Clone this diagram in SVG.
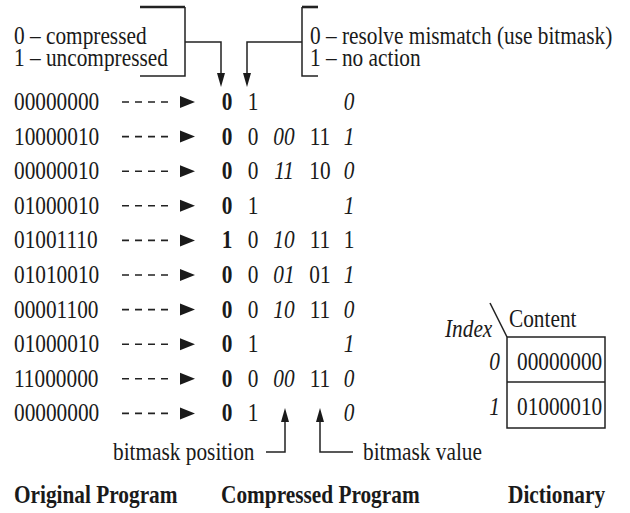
<svg xmlns="http://www.w3.org/2000/svg" xmlns:xlink="http://www.w3.org/1999/xlink" width="630" height="513" viewBox="0 0 630 513">
<style>
text{font-family:"Liberation Serif","Times New Roman",serif;font-size:24.5px;fill:#1a1a1a}
.b{font-weight:bold}
.i{font-style:italic}
.m{text-anchor:middle}
.e{text-anchor:end}
.ln{stroke:#222;stroke-width:1.5;fill:none}
.thk{stroke:#222;stroke-width:2.6;fill:none}
.dash{stroke:#222;stroke-width:1.6;stroke-dasharray:7 6;fill:none}
.hd{fill:#1a1a1a}
</style>
<defs>
<g id="darrow">
<line class="dash" x1="122" y1="0" x2="168" y2="0"/>
<polygon class="hd" points="180,-6 195,0 180,6"/>
</g>
<polygon id="downhead" class="hd" points="-4,-14 4,-14 0,0"/>
<polygon id="uphead" class="hd" points="-4,14 4,14 0,0"/>
</defs>

<g id="legend-left">
<path class="thk" d="M140,7 H185"/>
<path class="ln" d="M185,7 V76 H140"/>
<text transform="translate(14,44) scale(0.87,1)">0 – compressed</text>
<text transform="translate(14,66) scale(0.87,1)">1 – uncompressed</text>
</g>

<g id="legend-right">
<path class="thk" d="M302,7 H318"/>
<path class="ln" d="M302,7 V76 H318"/>
<text transform="translate(310,44) scale(0.87,1)">0 – resolve mismatch (use bitmask)</text>
<text transform="translate(310,66) scale(0.87,1)">1 – no action</text>
</g>

<g id="original-program">
<text transform="translate(14,110) scale(0.87,1)">00000000</text>
<text transform="translate(14,144.6) scale(0.87,1)">10000010</text>
<text transform="translate(14,179.2) scale(0.87,1)">00000010</text>
<text transform="translate(14,213.8) scale(0.87,1)">01000010</text>
<text transform="translate(14,248.4) scale(0.87,1)">01001110</text>
<text transform="translate(14,283) scale(0.87,1)">01010010</text>
<text transform="translate(14,317.6) scale(0.87,1)">00001100</text>
<text transform="translate(14,352.2) scale(0.87,1)">01000010</text>
<text transform="translate(14,386.8) scale(0.87,1)">11000000</text>
<text transform="translate(14,421.4) scale(0.87,1)">00000000</text>
<text class="b" transform="translate(14,503) scale(0.87,1)">Original Program</text>
</g>

<g id="compressed-program">
<g transform="translate(0,110)">
<text class="b m" transform="translate(227,0) scale(0.87,1)">0</text>
<text class="m" transform="translate(253,0) scale(0.87,1)">1</text>
<text class="i m" transform="translate(349,0) scale(0.87,1)">0</text>
</g>
<g transform="translate(0,144.6)">
<text class="b m" transform="translate(227,0) scale(0.87,1)">0</text>
<text class="m" transform="translate(253,0) scale(0.87,1)">0</text>
<text class="i m" transform="translate(284,0) scale(0.87,1)">00</text>
<text class="m" transform="translate(320,0) scale(0.87,1)">11</text>
<text class="i m" transform="translate(349,0) scale(0.87,1)">1</text>
</g>
<g transform="translate(0,179.2)">
<text class="b m" transform="translate(227,0) scale(0.87,1)">0</text>
<text class="m" transform="translate(253,0) scale(0.87,1)">0</text>
<text class="i m" transform="translate(284,0) scale(0.87,1)">11</text>
<text class="m" transform="translate(320,0) scale(0.87,1)">10</text>
<text class="i m" transform="translate(349,0) scale(0.87,1)">0</text>
</g>
<g transform="translate(0,213.8)">
<text class="b m" transform="translate(227,0) scale(0.87,1)">0</text>
<text class="m" transform="translate(253,0) scale(0.87,1)">1</text>
<text class="i m" transform="translate(349,0) scale(0.87,1)">1</text>
</g>
<g transform="translate(0,248.4)">
<text class="b m" transform="translate(227,0) scale(0.87,1)">1</text>
<text class="m" transform="translate(253,0) scale(0.87,1)">0</text>
<text class="i m" transform="translate(284,0) scale(0.87,1)">10</text>
<text class="m" transform="translate(320,0) scale(0.87,1)">11</text>
<text class="m" transform="translate(349,0) scale(0.87,1)">1</text>
</g>
<g transform="translate(0,283)">
<text class="b m" transform="translate(227,0) scale(0.87,1)">0</text>
<text class="m" transform="translate(253,0) scale(0.87,1)">0</text>
<text class="i m" transform="translate(284,0) scale(0.87,1)">01</text>
<text class="m" transform="translate(320,0) scale(0.87,1)">01</text>
<text class="i m" transform="translate(349,0) scale(0.87,1)">1</text>
</g>
<g transform="translate(0,317.6)">
<text class="b m" transform="translate(227,0) scale(0.87,1)">0</text>
<text class="m" transform="translate(253,0) scale(0.87,1)">0</text>
<text class="i m" transform="translate(284,0) scale(0.87,1)">10</text>
<text class="m" transform="translate(320,0) scale(0.87,1)">11</text>
<text class="i m" transform="translate(349,0) scale(0.87,1)">0</text>
</g>
<g transform="translate(0,352.2)">
<text class="b m" transform="translate(227,0) scale(0.87,1)">0</text>
<text class="m" transform="translate(253,0) scale(0.87,1)">1</text>
<text class="i m" transform="translate(349,0) scale(0.87,1)">1</text>
</g>
<g transform="translate(0,386.8)">
<text class="b m" transform="translate(227,0) scale(0.87,1)">0</text>
<text class="m" transform="translate(253,0) scale(0.87,1)">0</text>
<text class="i m" transform="translate(284,0) scale(0.87,1)">00</text>
<text class="m" transform="translate(320,0) scale(0.87,1)">11</text>
<text class="i m" transform="translate(349,0) scale(0.87,1)">0</text>
</g>
<g transform="translate(0,421.4)">
<text class="b m" transform="translate(227,0) scale(0.87,1)">0</text>
<text class="m" transform="translate(253,0) scale(0.87,1)">1</text>
<text class="i m" transform="translate(349,0) scale(0.87,1)">0</text>
</g>
<text transform="translate(113,460) scale(0.87,1)">bitmask position</text>
<text transform="translate(363,460) scale(0.87,1)">bitmask value</text>
<text class="b" transform="translate(221,503) scale(0.87,1)">Compressed Program</text>
</g>

<g id="dictionary">
<line class="ln" x1="490" y1="303" x2="507" y2="337"/>
<text class="i" transform="translate(445,337) scale(0.87,1)">Index</text>
<text transform="translate(509,327) scale(0.87,1)">Content</text>
<rect class="ln" x="507" y="337" width="98" height="91"/>
<line class="ln" x1="507" y1="382" x2="605" y2="382"/>
<text class="i e" transform="translate(500,370) scale(0.87,1)">0</text>
<text transform="translate(517,370) scale(0.87,1)">00000000</text>
<text class="i e" transform="translate(500,415) scale(0.87,1)">1</text>
<text transform="translate(517,415) scale(0.87,1)">01000010</text>
<text class="b" transform="translate(508,503) scale(0.87,1)">Dictionary</text>
</g>

<g id="connectors">
<use xlink:href="#darrow" href="#darrow" y="102"/>
<use xlink:href="#darrow" href="#darrow" y="136.6"/>
<use xlink:href="#darrow" href="#darrow" y="171.2"/>
<use xlink:href="#darrow" href="#darrow" y="205.8"/>
<use xlink:href="#darrow" href="#darrow" y="240.4"/>
<use xlink:href="#darrow" href="#darrow" y="275"/>
<use xlink:href="#darrow" href="#darrow" y="309.6"/>
<use xlink:href="#darrow" href="#darrow" y="344.2"/>
<use xlink:href="#darrow" href="#darrow" y="378.8"/>
<use xlink:href="#darrow" href="#darrow" y="413.4"/>
<path class="ln" d="M185,42 H221 V74"/>
<use xlink:href="#downhead" href="#downhead" x="221" y="87"/>
<path class="ln" d="M302,42 H247 V74"/>
<use xlink:href="#downhead" href="#downhead" x="247" y="87"/>
<path class="ln" d="M266,452 H285 V420"/>
<use xlink:href="#uphead" href="#uphead" x="285" y="408"/>
<path class="ln" d="M353,452 H320 V420"/>
<use xlink:href="#uphead" href="#uphead" x="320" y="408"/>
</g>
</svg>
